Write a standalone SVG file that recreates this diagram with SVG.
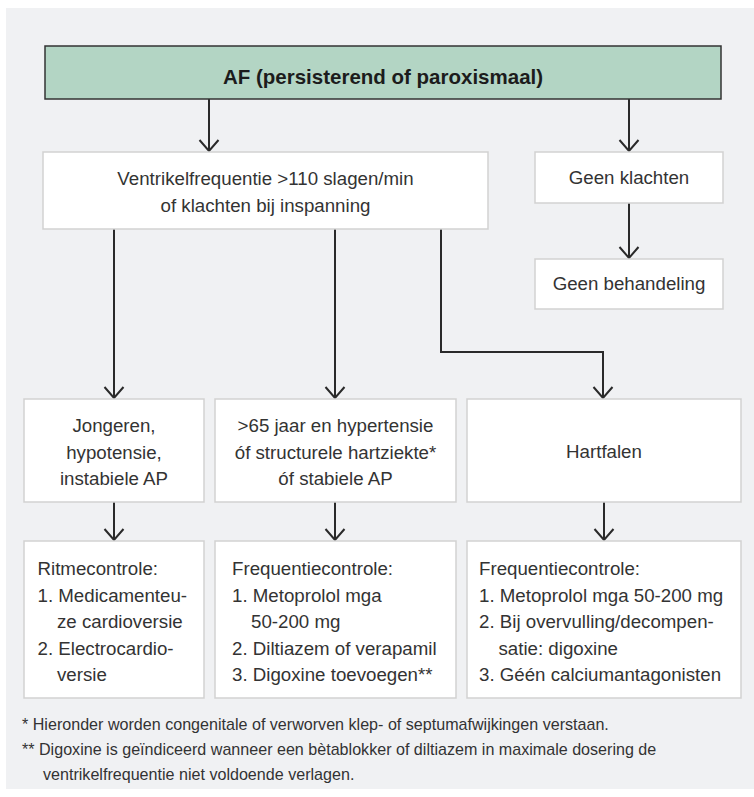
<svg xmlns="http://www.w3.org/2000/svg" width="754" height="797" viewBox="0 0 754 797">
<defs>
<marker id="arr" markerUnits="userSpaceOnUse" markerWidth="30" markerHeight="30" viewBox="-15 -15 30 30" refX="0" refY="0" orient="auto">
<path d="M-11,-9.5 L0,0 L-11,9.5" fill="none" stroke="#2a2a2a" stroke-width="2"/>
</marker>
</defs>
<style>
.box{fill:#ffffff;stroke:#d2d2d2;stroke-width:1.5}
.t{font-family:"Liberation Sans",Arial,sans-serif;font-size:18.7px;fill:#333333}
.c{text-anchor:middle}
.fn{font-family:"Liberation Sans",Arial,sans-serif;font-size:16.1px;fill:#333333}
.ln{fill:none;stroke:#2a2a2a;stroke-width:2;marker-end:url(#arr)}
</style>
<rect x="6" y="8" width="748" height="781" fill="#f0f1f3"/>
<g id="connectors">
<path class="ln" d="M209,99 V151"/>
<path class="ln" d="M629,99 V151"/>
<path class="ln" d="M629,203 V258"/>
<path class="ln" d="M114,229 V398"/>
<path class="ln" d="M335,229 V398"/>
<path class="ln" d="M441,229 V352 H603 V398"/>
<path class="ln" d="M114,502 V540"/>
<path class="ln" d="M335,502 V540"/>
<path class="ln" d="M604,502 V540"/>
</g>
<g id="start">
<rect x="45" y="46" width="676" height="53" fill="#b3d5c4" stroke="#333333" stroke-width="1.5"/>
<text x="383" y="84" class="c" style="font-family:'Liberation Sans',Arial,sans-serif;font-size:20.5px;font-weight:bold;fill:#1c1c1c">AF (persisterend of paroxismaal)</text>
</g>
<g id="ventrikel">
<rect class="box" x="43" y="152" width="445" height="77"/>
<text class="t c" x="265.5" y="185">Ventrikelfrequentie &gt;110 slagen/min</text>
<text class="t c" x="265.5" y="212">of klachten bij inspanning</text>
</g>
<g id="geenklachten">
<rect class="box" x="535" y="152" width="188" height="51"/>
<text class="t c" x="629" y="184">Geen klachten</text>
</g>
<g id="geenbehandeling">
<rect class="box" x="535" y="259" width="188" height="50"/>
<text class="t c" x="629" y="290">Geen behandeling</text>
</g>
<g id="jongeren">
<rect class="box" x="24" y="399" width="180" height="103"/>
<text class="t c" x="114" y="432">Jongeren,</text>
<text class="t c" x="114" y="459">hypotensie,</text>
<text class="t c" x="114" y="485">instabiele AP</text>
</g>
<g id="ouderen">
<rect class="box" x="215" y="399" width="241" height="103"/>
<text class="t c" x="335.5" y="432">&gt;65 jaar en hypertensie</text>
<text class="t c" x="335.5" y="459">óf structurele hartziekte*</text>
<text class="t c" x="335.5" y="485">óf stabiele AP</text>
</g>
<g id="hartfalen">
<rect class="box" x="467" y="399" width="274" height="103"/>
<text class="t c" x="604" y="458">Hartfalen</text>
</g>
<g id="ritmecontrole">
<rect class="box" x="24" y="541" width="180" height="157"/>
<text class="t" x="37.5" y="575">Ritmecontrole:</text>
<text class="t" x="37.5" y="601.5">1. Medicamenteu-</text>
<text class="t" x="57" y="628">ze cardioversie</text>
<text class="t" x="37.5" y="654.5">2. Electrocardio-</text>
<text class="t" x="57" y="681">versie</text>
</g>
<g id="frequentiecontrole1">
<rect class="box" x="215" y="541" width="241" height="157"/>
<text class="t" x="232" y="575">Frequentiecontrole:</text>
<text class="t" x="232" y="601.5">1. Metoprolol mga</text>
<text class="t" x="251" y="628">50-200 mg</text>
<text class="t" x="232" y="654.5">2. Diltiazem of verapamil</text>
<text class="t" x="232" y="681">3. Digoxine toevoegen**</text>
</g>
<g id="frequentiecontrole2">
<rect class="box" x="467" y="541" width="274" height="157"/>
<text class="t" x="479" y="575">Frequentiecontrole:</text>
<text class="t" x="479" y="601.5">1. Metoprolol mga 50-200 mg</text>
<text class="t" x="479" y="628">2. Bij overvulling/decompen-</text>
<text class="t" x="498.5" y="654.5">satie: digoxine</text>
<text class="t" x="479" y="681">3. Géén calciumantagonisten</text>
</g>
<g id="footnotes">
<text class="fn" x="22" y="730">* Hieronder worden congenitale of verworven klep- of septumafwijkingen verstaan.</text>
<text class="fn" x="22" y="755">** Digoxine is geïndiceerd wanneer een bètablokker of diltiazem in maximale dosering de</text>
<text class="fn" x="43" y="780">ventrikelfrequentie niet voldoende verlagen.</text>
</g>
</svg>
